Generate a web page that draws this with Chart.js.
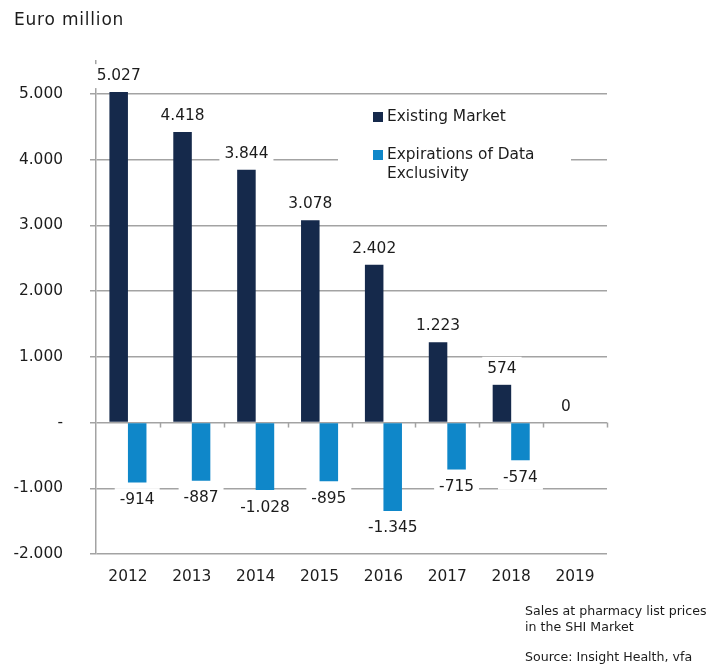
<!DOCTYPE html>
<html>
<head>
<meta charset="utf-8">
<script src="https://cdn.jsdelivr.net/npm/chart.js@4.4.1/dist/chart.umd.min.js"></script>
<style>
  body { margin: 0; background: #fff; }
</style>
</head>
<body>
<canvas id="myChart" width="710" height="664"></canvas>
<script>
const years = ["2012", "2013", "2014", "2015", "2016", "2017", "2018", "2019"];
const existingMarket = [5027, 4418, 3844, 3078, 2402, 1223, 574, 0];
const expirations = [-914, -887, -1028, -895, -1345, -715, -574, null];
const seriesNames = ["Existing Market", "Expirations of Data Exclusivity"];
const yTickValues = [-2000, -1000, 0, 1000, 2000, 3000, 4000, 5000];

const navy = '#15294b';
const blue = '#0f87c9';
const gridGrey = '#a3a3a3';
const textCol = '#1c1c1c';
const fontFam = '"DejaVu Sans", Verdana, sans-serif';

// 5027 -> "5.027"
function fmt(v) {
    if (v === 0) return '0';
    const s = Math.abs(v).toString().replace(/\B(?=(\d{3})+(?!\d))/g, '.');
    return (v < 0 ? '-' : '') + s;
}

// value labels with white box behind (cuts the grid lines like the original)
const valueLabels = {
    id: 'valueLabels',
    afterDatasetsDraw(chart) {
        const ctx = chart.ctx;
        ctx.save();
        ctx.font = '15.4px ' + fontFam;
        ctx.textAlign = 'center';
        ctx.textBaseline = 'middle';
        chart.data.datasets.forEach((ds, i) => {
            const meta = chart.getDatasetMeta(i);
            meta.data.forEach((el, j) => {
                const v = ds.data[j];
                if (v === null || v === undefined) return;
                const txt = fmt(v);
                const y = v >= 0 ? el.y - 16 : el.y + 17.5;
                const w = ctx.measureText(txt).width;
                ctx.fillStyle = '#fff';
                ctx.fillRect(el.x - w / 2 - 5, y - 12, w + 10, 24);
                ctx.fillStyle = textCol;
                ctx.fillText(txt, el.x, y);
            });
        });
        ctx.restore();
    }
};

// legend inside plot, title, notes, small ticks on the zero line
const extras = {
    id: 'extras',
    beforeDatasetsDraw(chart) {
        const ctx = chart.ctx;
        const area = chart.chartArea;
        const y0 = chart.scales.y.getPixelForValue(0);
        ctx.save();
        ctx.strokeStyle = gridGrey;
        ctx.lineWidth = 1.5;
        const step = (area.right - area.left) / years.length;
        for (let k = 1; k <= years.length; k++) {
            const x = Math.round(area.left + k * step) + 0.5;
            ctx.beginPath();
            ctx.moveTo(x, y0);
            ctx.lineTo(x, y0 + 5);
            ctx.stroke();
        }
        // legend box
        ctx.fillStyle = '#fff';
        ctx.fillRect(338, 100, 233, 90);
        ctx.font = '15.4px ' + fontFam;
        ctx.textBaseline = 'middle';
        ctx.textAlign = 'left';
        ctx.fillStyle = navy;
        ctx.fillRect(373, 112, 10, 10);
        ctx.fillStyle = blue;
        ctx.fillRect(373, 150, 10, 10);
        ctx.fillStyle = textCol;
        ctx.fillText(seriesNames[0], 387, 117);
        ctx.fillText('Expirations of Data', 387, 155);
        ctx.fillText('Exclusivity', 387, 174);
        ctx.restore();
    },
    afterDraw(chart) {
        const ctx = chart.ctx;
        ctx.save();
        ctx.fillStyle = textCol;
        ctx.textBaseline = 'middle';
        ctx.textAlign = 'left';
        ctx.font = '17px ' + fontFam;
        ctx.letterSpacing = '0.8px';
        ctx.fillText('Euro million', 14, 21);
        ctx.letterSpacing = '0px';
        ctx.font = '12.6px ' + fontFam;
        ctx.fillText('Sales at pharmacy list prices', 525, 612);
        ctx.fillText('in the SHI Market', 525, 628);
        ctx.fillText('Source: Insight Health, vfa', 525, 658);
        ctx.restore();
    }
};

const config = {
    type: 'bar',
    data: {
        labels: years,
        datasets: [
            { label: seriesNames[0], data: existingMarket, backgroundColor: navy },
            { label: seriesNames[1], data: expirations, backgroundColor: blue }
        ]
    },
    options: {
        responsive: false,
        animation: false,
        layout: { padding: { top: 61, right: 103, left: 0, bottom: 0 } },
        datasets: {
            bar: { categoryPercentage: 0.58, barPercentage: 1 }
        },
        scales: {
            x: {
                grid: { display: false, drawTicks: false },
                border: { display: false },
                ticks: { color: textCol, font: { family: fontFam, size: 15.4 }, padding: 14 },
                afterFit(scale) { scale.height = 110; }
            },
            y: {
                min: -2000,
                max: 5500,
                grid: { color: gridGrey, lineWidth: 1.5, tickLength: 6 },
                border: { display: true, color: gridGrey, width: 1.5 },
                afterBuildTicks(scale) {
                    scale.ticks = yTickValues.map(v => ({ value: v }));
                },
                ticks: {
                    color: textCol,
                    font: { family: fontFam, size: 15.4 },
                    padding: 27,
                    callback: v => v === 0 ? '-' : fmt(v)
                },
                afterFit(scale) { scale.width = 96; }
            }
        },
        plugins: {
            legend: { display: false },
            tooltip: { enabled: false }
        }
    },
    plugins: [extras, valueLabels]
};

new Chart(document.getElementById('myChart'), config);
</script>
</body>
</html>
